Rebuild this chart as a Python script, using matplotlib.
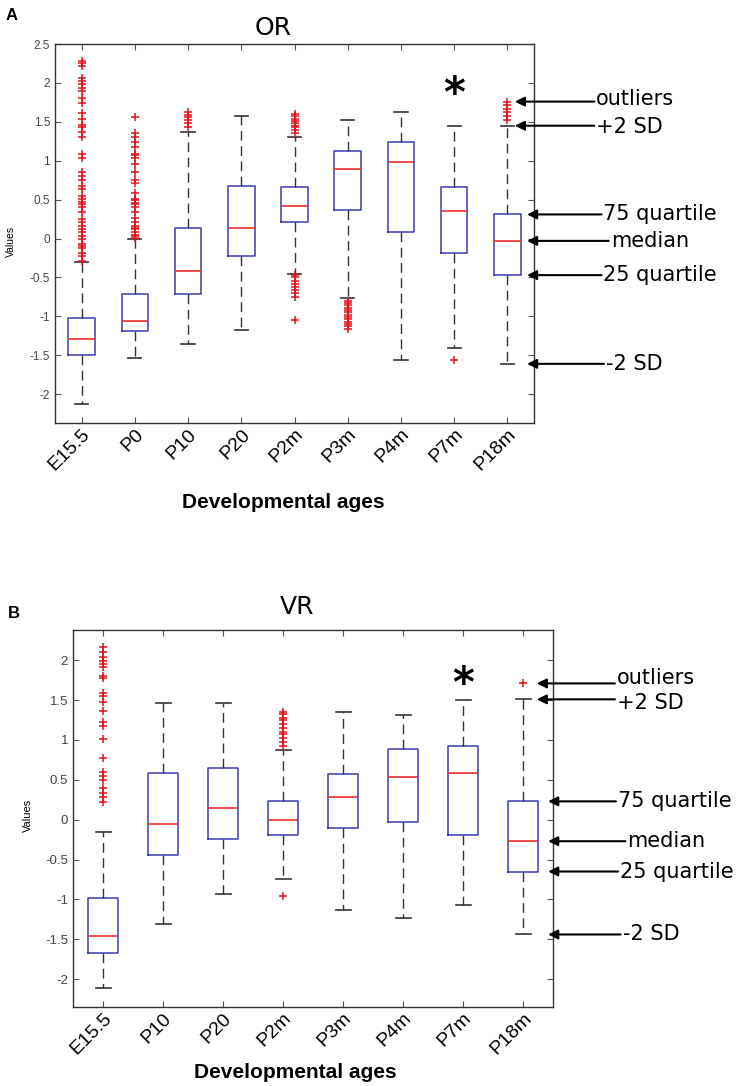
import matplotlib
matplotlib.use("Agg")
import matplotlib.pyplot as plt
import matplotlib.transforms as mtransforms
import numpy as np

plt.rcParams['font.family'] = ['Liberation Sans', 'DejaVu Sans']
plt.rcParams['axes.unicode_minus'] = False

# ---- panel A (OR) ----
ages_a = ['E15.5', 'P0', 'P10', 'P20', 'P2m', 'P3m', 'P4m', 'P7m', 'P18m']
q1_a = [-1.50, -1.19, -0.71, -0.22, 0.21, 0.37, 0.09, -0.19, -0.47]
med_a = [-1.29, -1.06, -0.42, 0.13, 0.42, 0.90, 0.98, 0.35, -0.03]
q3_a = [-1.02, -0.71, 0.13, 0.68, 0.66, 1.13, 1.24, 0.66, 0.31]
lo_a = [-2.13, -1.53, -1.36, -1.18, -0.45, -0.77, -1.56, -1.41, -1.61]
hi_a = [-0.30, 0.00, 1.37, 1.57, 1.31, 1.52, 1.63, 1.45, 1.45]
fliers_a = [
    [2.28, 2.25, 2.22, 2.06, 2.02, 1.98, 1.93, 1.89, 1.80, 1.74, 1.61, 1.54,
     1.46, 1.43, 1.37, 1.31, 1.09, 1.03, 0.85, 0.81, 0.75, 0.68, 0.64, 0.55,
     0.51, 0.47, 0.44, 0.40, 0.34, 0.25, 0.21, 0.16, 0.12, 0.08, 0.03, -0.01,
     -0.07, -0.10, -0.12, -0.18, -0.22, -0.29],
    [1.56, 1.35, 1.31, 1.24, 1.18, 1.09, 1.07, 1.04, 0.96, 0.85, 0.75, 0.72,
     0.59, 0.51, 0.49, 0.46, 0.44, 0.40, 0.34, 0.27, 0.21, 0.16, 0.13, 0.12,
     0.08, 0.05, 0.03, 0.01],
    [1.43, 1.48, 1.52, 1.56, 1.59, 1.62],
    [],
    [1.36, 1.40, 1.43, 1.45, 1.48, 1.51, 1.54, 1.57, 1.60,
     -0.47, -0.50, -0.55, -0.58, -0.62, -0.66, -0.70, -0.75, -1.05],
    [-0.80, -0.83, -0.86, -0.89, -0.92, -0.95, -0.98, -1.01, -1.04, -1.07,
     -1.10, -1.13, -1.16],
    [],
    [-1.56],
    [1.76, 1.72, 1.67, 1.62, 1.57, 1.52],
]

# ---- panel B (VR) ----
ages_b = ['E15.5', 'P10', 'P20', 'P2m', 'P3m', 'P4m', 'P7m', 'P18m']
q1_b = [-1.67, -0.44, -0.24, -0.19, -0.11, -0.03, -0.19, -0.65]
med_b = [-1.46, -0.05, 0.15, 0.00, 0.28, 0.53, 0.59, -0.27]
q3_b = [-0.98, 0.59, 0.65, 0.24, 0.57, 0.89, 0.93, 0.23]
lo_b = [-2.11, -1.31, -0.93, -0.74, -1.13, -1.23, -1.07, -1.44]
hi_b = [-0.15, 1.47, 1.47, 0.87, 1.35, 1.31, 1.50, 1.51]
fliers_b = [
    [2.17, 2.11, 2.04, 1.99, 1.95, 1.92, 1.80, 1.78, 1.59, 1.55, 1.48, 1.36,
     1.23, 1.17, 1.01, 0.77, 0.60, 0.55, 0.50, 0.40, 0.34, 0.28, 0.22],
    [], [],
    [0.92, 0.98, 1.03, 1.08, 1.10, 1.15, 1.20, 1.25, 1.28, 1.32, 1.35, -0.96],
    [], [], [],
    [1.71],
]

W, H = 742, 1086
fig = plt.figure(figsize=(W / 100, H / 100), dpi=100)


def px(x, y):
    return x / W, 1 - y / H


def draw_panel(ax, ages, q1, med, q3, lo, hi, fliers, ylim, ytick_size):
    stats = []
    for i in range(len(ages)):
        stats.append(dict(med=med[i], q1=q1[i], q3=q3[i], whislo=lo[i],
                          whishi=hi[i], fliers=np.array(fliers[i])))
    ax.bxp(stats, widths=0.5, showfliers=True,
           boxprops=dict(color='#3b3bb4', linewidth=1.1),
           medianprops=dict(color='#e8302c', linewidth=1.2),
           whiskerprops=dict(color='#333333', linewidth=1.0, linestyle=(0, (7, 4))),
           capprops=dict(color='#333333', linewidth=1.2),
           flierprops=dict(marker='+', markeredgecolor='#e8101a',
                           markersize=6, markeredgewidth=1.1, linestyle='none'))
    ax.set_xlim(0.5, len(ages) + 0.5)
    ax.set_ylim(*ylim)
    yt = np.arange(-2, ylim[1] + 0.01, 0.5)
    ax.set_yticks(yt)
    ax.set_yticklabels(['%g' % v for v in yt], fontsize=ytick_size, color='#444444')
    ax.set_xticks(np.arange(1, len(ages) + 1))
    ax.set_xticklabels(ages, rotation=45, ha='right', va='top',
                       rotation_mode='anchor', fontsize=14)
    off = mtransforms.ScaledTranslation(9 / 100, -6 / 100, fig.dpi_scale_trans)
    for lab in ax.get_xticklabels():
        lab.set_transform(lab.get_transform() + off)
    ax.tick_params(direction='in', length=4, top=True, right=True,
                   color='#555555', width=0.8)
    ax.tick_params(axis='x', pad=2)
    for s in ax.spines.values():
        s.set_color('#333333')
        s.set_linewidth(1.0)


def annotate_panel(ax, tip_out, tip_box, text_x, text_dy, vals):
    names = ['outliers', '+2 SD', '75 quartile', 'median', '25 quartile', '-2 SD']
    mixed = mtransforms.blended_transform_factory(ax.transAxes, ax.transData)
    for k, (name, v) in enumerate(zip(names, vals)):
        tip = tip_out if k < 2 else tip_box
        # horizontal arrow, text placed beside its tail
        ax.annotate('', xy=(tip, v), xycoords='data',
                    xytext=(text_x[k] - 0.004, v), textcoords=('axes fraction', 'data'),
                    annotation_clip=False,
                    arrowprops=dict(arrowstyle='-|>', color='black', lw=1.5,
                                    mutation_scale=14, shrinkA=0, shrinkB=0))
        ax.text(text_x[k], v + text_dy[k], name, transform=mixed, clip_on=False,
                ha='left', va='center', fontsize=15, family='DejaVu Sans')


# panel A
ax1 = fig.add_axes([55 / W, 1 - 423 / H, 479 / W, 379 / H])
draw_panel(ax1, ages_a, q1_a, med_a, q3_a, lo_a, hi_a, fliers_a, (-2.37, 2.5), 8.5)
annotate_panel(ax1, 9.14, 9.37, [1.13, 1.13, 1.145, 1.16, 1.145, 1.15],
               [0.03, -0.02, 0, 0, 0, 0],
               [fliers_a[8][0], hi_a[8], q3_a[8], med_a[8], q1_a[8], lo_a[8]])
ax1.annotate('*', xy=(8, 2.0), xytext=(0, -17), textcoords='offset points',
             ha='center', va='baseline', fontsize=30, fontweight='bold',
             family='DejaVu Sans')

# panel B
ax2 = fig.add_axes([73 / W, 1 - 1007 / H, 480 / W, 377 / H])
draw_panel(ax2, ages_b, q1_b, med_b, q3_b, lo_b, hi_b, fliers_b, (-2.35, 2.38), 9.5)
annotate_panel(ax2, 8.23, 8.42, [1.133, 1.133, 1.135, 1.155, 1.14, 1.145],
               [0.07, -0.04, 0, 0, 0, 0],
               [fliers_b[7][0], hi_b[7], q3_b[7], med_b[7], q1_b[7], lo_b[7]])
ax2.annotate('*', xy=(7, 1.84), xytext=(0, -17), textcoords='offset points',
             ha='center', va='baseline', fontsize=30, fontweight='bold',
             family='DejaVu Sans')

# titles, panel letters, axis labels
fig.text(*px(273, 28), 'OR', ha='center', va='center', fontsize=18, family='DejaVu Sans')
fig.text(*px(297, 607), 'VR', ha='center', va='center', fontsize=18, family='DejaVu Sans')
fig.text(*px(12, 15), 'A', ha='center', va='center', fontsize=12, fontweight='bold')
fig.text(*px(14, 613), 'B', ha='center', va='center', fontsize=12, fontweight='bold')
fig.text(*px(283, 502), 'Developmental ages', ha='center', va='center',
         fontsize=15, fontweight='bold')
fig.text(*px(295, 1073), 'Developmental ages', ha='center', va='center',
         fontsize=15, fontweight='bold')
fig.text(*px(11, 241), 'Values', rotation=90, ha='center', va='center', fontsize=7.5)
fig.text(*px(28, 815), 'Values', rotation=90, ha='center', va='center', fontsize=8)

fig.savefig('out.png', dpi=100, facecolor='white')
